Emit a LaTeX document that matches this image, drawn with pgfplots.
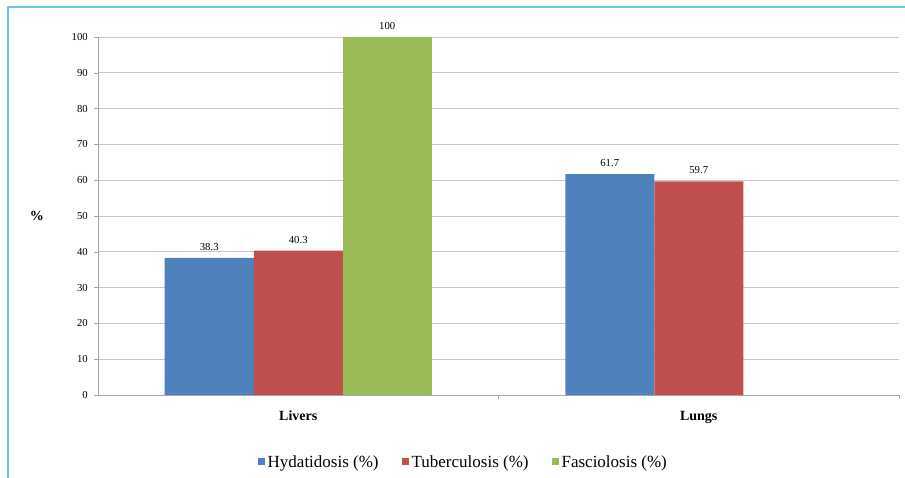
\documentclass[border=0pt]{standalone}
\usepackage{pgfplots}
\pgfplotsset{compat=1.18}
\usepackage{fontspec}
\setmainfont{Liberation Serif}

\definecolor{hyd}{HTML}{4F81BD}
\definecolor{tub}{HTML}{C0504D}
\definecolor{fas}{HTML}{9BBB59}
\definecolor{gridgray}{HTML}{C8C8C8}
\definecolor{axisgray}{HTML}{A6A6A6}
\definecolor{frameblue}{HTML}{6CC4EC}

\pgfplotsset{
  sq/.style={legend image code/.code={\fill[#1] (0pt,-3.5pt) rectangle (7pt,3.5pt);}},
}

\begin{document}
\begin{tikzpicture}
\begin{axis}[
  scale only axis,
  width=801pt, height=358pt,
  ybar=0pt, bar width=89pt,
  xmin=-0.5, xmax=1.5,
  ymin=0, ymax=100,
  ytick={0,10,...,100},
  xtick={0,1},
  xticklabels={\textbf{Livers},\textbf{Lungs}},
  x tick style={draw=none},
  extra x ticks={0.5,1.5},
  extra x tick labels={},
  extra x tick style={grid=none, x tick style={draw=axisgray}},
  major tick length=4pt,
  axis lines*=left,
  axis line style={draw=axisgray, line width=0.8pt},
  y tick style={draw=axisgray},
  tick align=outside,
  ymajorgrids,
  major grid style={draw=gridgray, line width=0.8pt},
  /pgf/number format/assume math mode=true,
  yticklabel style={font=\fontsize{10.7}{12}\selectfont, inner sep=0pt, xshift=-6pt},
  xticklabel style={font=\fontsize{14}{16}\selectfont, inner sep=0pt, yshift=-12pt},
  ylabel={\textbf{\%}},
  ylabel style={rotate=-90, at={(axis description cs:0,0.5)}, anchor=center, xshift=-61pt, font=\fontsize{14}{16}\selectfont},
  nodes near coords,
  every node near coord/.append style={font=\fontsize{10.7}{12}\selectfont, anchor=south, inner sep=0pt, yshift=7pt, black},
  legend style={draw=none, at={(axis description cs:0.196,-0.187)}, anchor=west,
    legend columns=3, font=\fontsize{17}{19}\selectfont,
    /tikz/every even column/.append style={column sep=21pt},
    nodes={inner sep=2.5pt}},
]
\addplot[fill=hyd, draw=none, sq] coordinates {(0,38.3) (1,61.7)};
\addplot[fill=tub, draw=none, sq] coordinates {(0,40.3) (1,59.7)};
\addplot[fill=fas, draw=none, sq] coordinates {(0,100)};
\legend{Hydatidosis (\%), Tuberculosis (\%), Fasciolosis (\%)}
\end{axis}
\draw[frameblue, line width=1.5pt] (-90pt,-83pt) -- (-90pt,388pt) -- (807pt,388pt);
\pgfresetboundingbox
\path[use as bounding box] (-98pt,-83pt) rectangle (807pt,395pt);
\end{tikzpicture}
\end{document}
